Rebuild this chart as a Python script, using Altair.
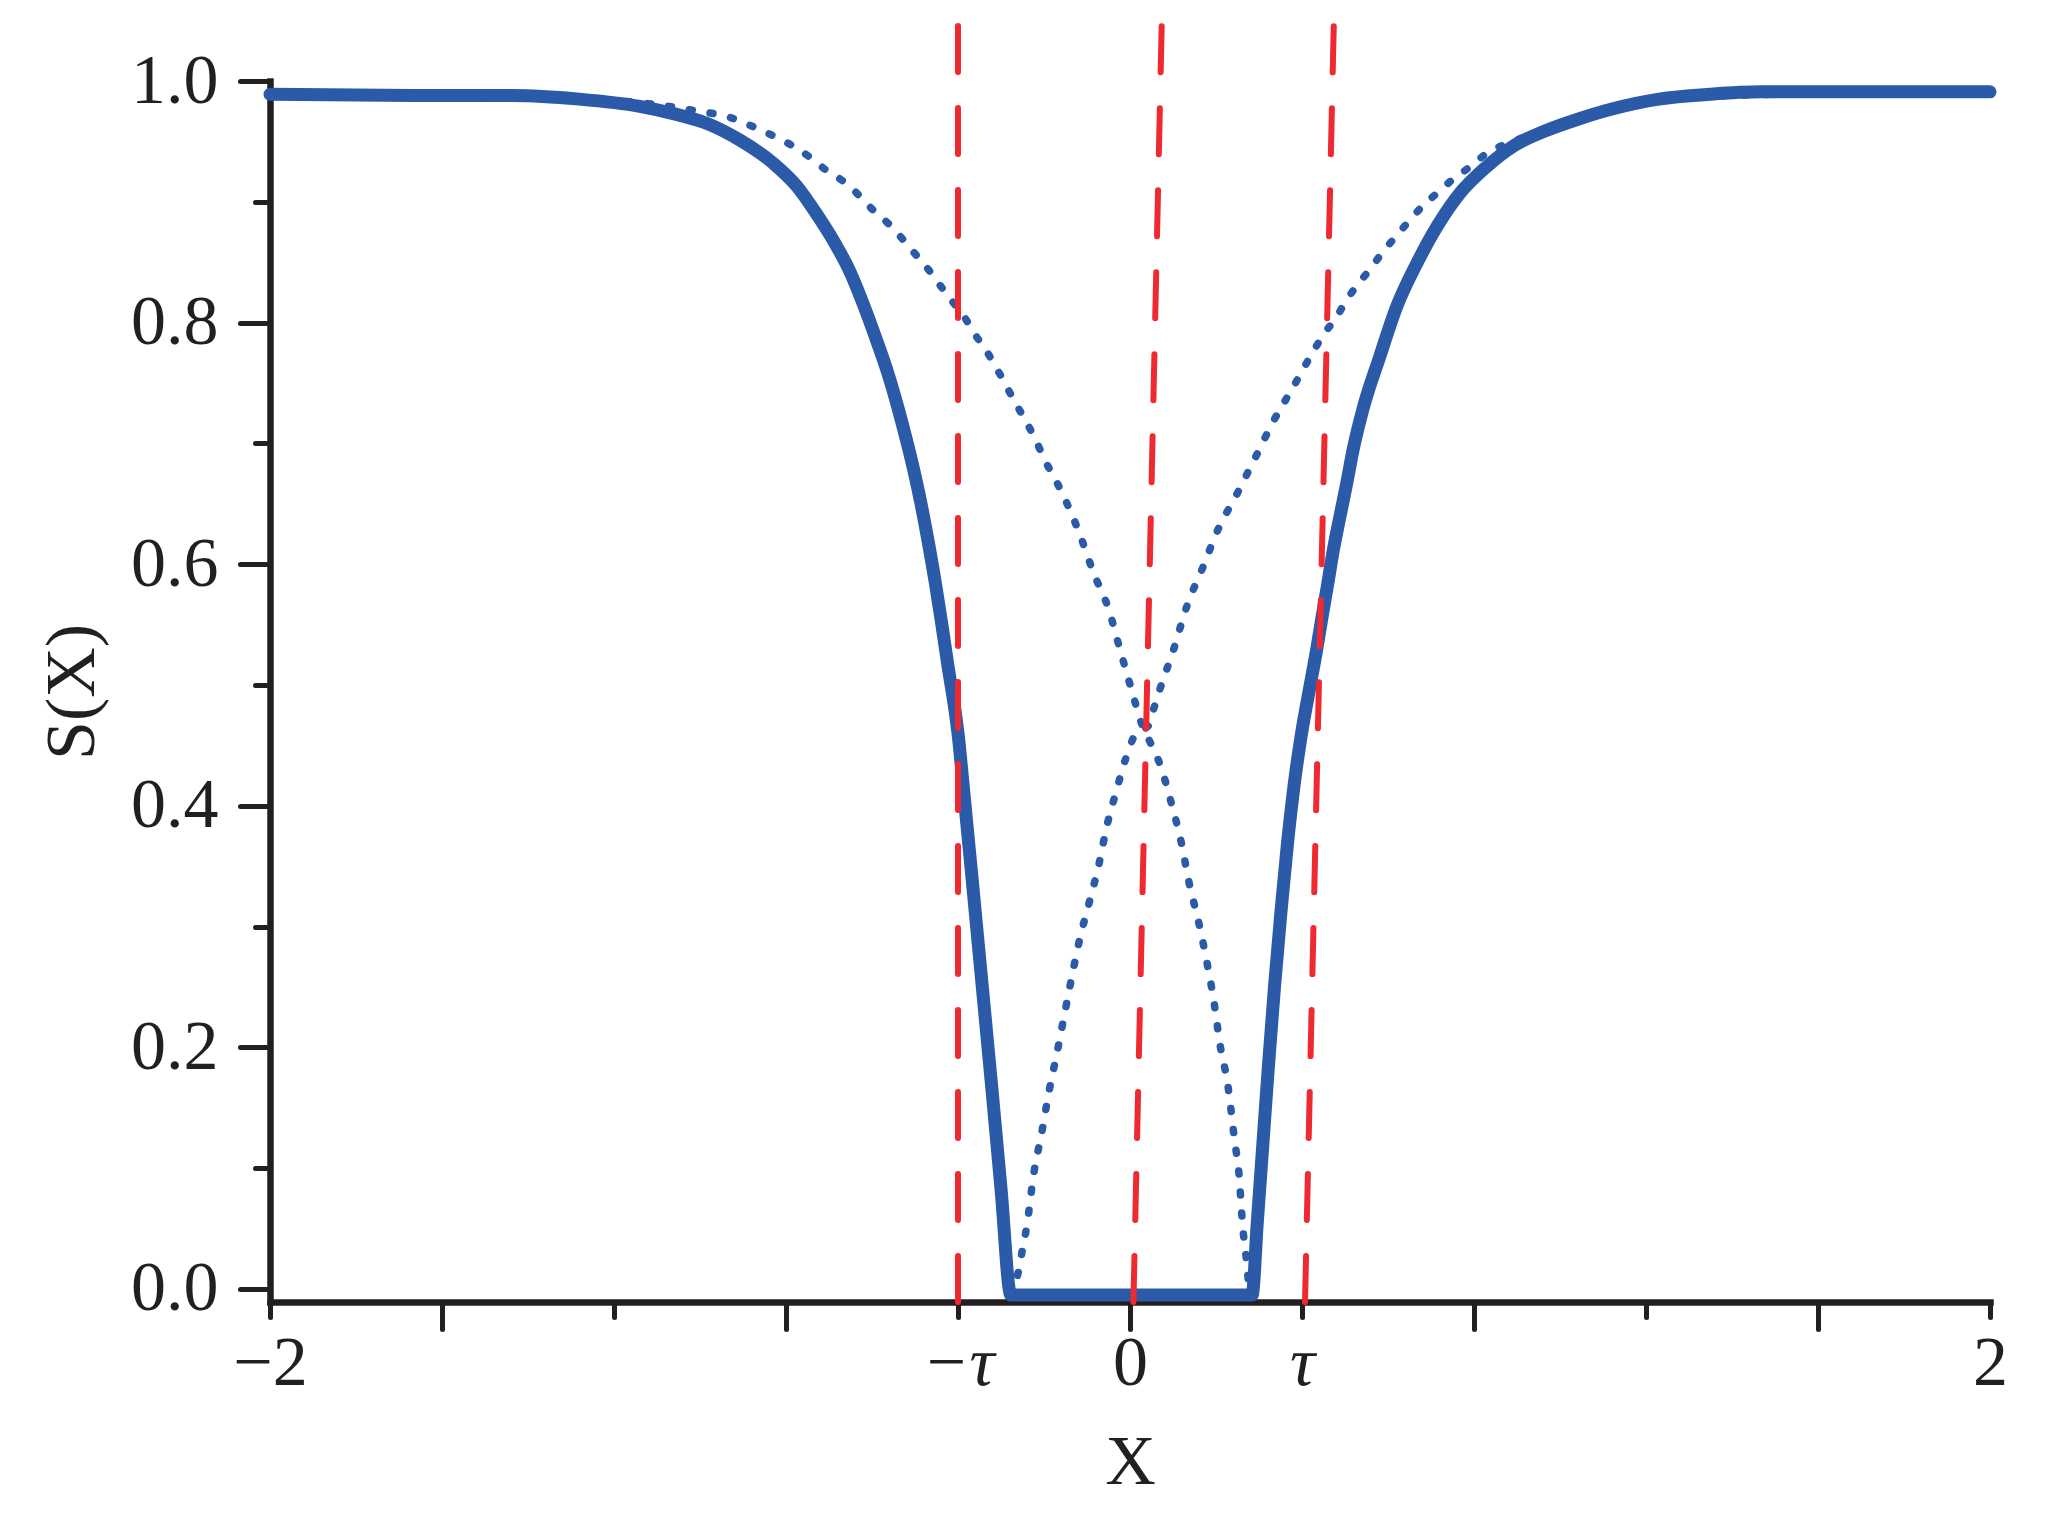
import altair as alt
import pandas as pd

# ---------------- data ----------------
solid_x = [-2.0, -1.644, -1.436, -1.281, -1.140, -1.062, -0.985, -0.907, -0.830, -0.775,
           -0.729, -0.690, -0.651, -0.620, -0.589, -0.563, -0.540, -0.520, -0.501, -0.486,
           -0.470, -0.452, -0.438, -0.423, -0.407, -0.400, -0.387, -0.366, -0.344, -0.321,
           -0.300, -0.277, 0.284, 0.296, 0.309, 0.322, 0.336, 0.351, 0.366, 0.382,
           0.399, 0.416, 0.434, 0.446, 0.460, 0.473, 0.488, 0.504, 0.519, 0.543,
           0.581, 0.620, 0.667, 0.713, 0.767, 0.829, 0.891, 0.968, 1.047, 1.123,
           1.230, 1.349, 1.467, 1.704, 2.0]
solid_y = [0.989, 0.988, 0.988, 0.985, 0.979, 0.973, 0.965, 0.951, 0.932, 0.913,
           0.890, 0.868, 0.842, 0.815, 0.785, 0.758, 0.730, 0.703, 0.675, 0.650,
           0.620, 0.583, 0.551, 0.515, 0.479, 0.460, 0.413, 0.335, 0.252, 0.165,
           0.083, -0.005, -0.005, 0.055, 0.120, 0.185, 0.250, 0.312, 0.368, 0.418,
           0.460, 0.494, 0.529, 0.555, 0.584, 0.612, 0.639, 0.667, 0.695, 0.730,
           0.772, 0.813, 0.849, 0.879, 0.907, 0.929, 0.946, 0.959, 0.969, 0.977,
           0.985, 0.989, 0.991, 0.991, 0.991]

dec_x = [-2.0, -1.5, -1.2, -1.021, -0.923, -0.869, -0.826, -0.783, -0.741, -0.706,
         -0.667, -0.632, -0.597, -0.562, -0.531, -0.500, -0.469, -0.442, -0.412, -0.384,
         -0.360, -0.333, -0.310, -0.287, -0.264, -0.240, -0.217, -0.198, -0.175, -0.154,
         -0.116, -0.086, -0.049, -0.023, 0.002, 0.028, 0.049, 0.070, 0.097, 0.119,
         0.137, 0.160, 0.178, 0.196, 0.209, 0.227, 0.244, 0.253, 0.262, 0.271, 0.278]
dec_y = [0.989, 0.988, 0.984, 0.976, 0.969, 0.961, 0.954, 0.946, 0.936, 0.926,
         0.917, 0.906, 0.893, 0.882, 0.870, 0.857, 0.844, 0.831, 0.817, 0.804,
         0.790, 0.776, 0.762, 0.747, 0.732, 0.717, 0.701, 0.686, 0.671, 0.656,
         0.624, 0.594, 0.562, 0.529, 0.498, 0.467, 0.451, 0.434, 0.401, 0.370,
         0.337, 0.303, 0.272, 0.236, 0.203, 0.170, 0.121, 0.097, 0.052, 0.023, -0.005]

inc_x = [-0.277, -0.258, -0.250, -0.240, -0.224, -0.206, -0.188, -0.170, -0.152, -0.135,
         -0.116, -0.094, -0.072, -0.054, -0.032, -0.010, 0.016, 0.042, 0.054, 0.070,
         0.102, 0.132, 0.169, 0.205, 0.247, 0.291, 0.333, 0.380, 0.426, 0.450,
         0.481, 0.504, 0.531, 0.562, 0.589, 0.620, 0.651, 0.682, 0.717, 0.752,
         0.791, 0.829, 0.891, 0.968, 1.047, 1.2, 1.5, 2.0]
inc_y = [-0.005, 0.017, 0.033, 0.052, 0.095, 0.128, 0.164, 0.195, 0.228, 0.259,
         0.291, 0.321, 0.352, 0.383, 0.412, 0.439, 0.461, 0.466, 0.479, 0.497,
         0.530, 0.565, 0.597, 0.629, 0.657, 0.688, 0.718, 0.747, 0.776, 0.790,
         0.805, 0.819, 0.832, 0.846, 0.859, 0.872, 0.885, 0.897, 0.908, 0.919,
         0.929, 0.940, 0.950, 0.960, 0.969, 0.983, 0.989, 0.991]

# red dashed guide lines (slightly slanted in the reference)
red_x_bottom = [-0.4, 0.008, 0.407]
red_x_top = [-0.4, 0.074, 0.474]
red_y_bottom = [-0.0108, -0.0108, -0.0108]
red_y_top = [1.048, 1.051, 1.048]

# axis ticks / labels
x_label_values = [-2, -1.2, -0.4, 0, 0.4, 1.2, 2]
x_label_texts = ["−2", "", "−τ", "0", "τ", "", "2"]
x_long_ticks = [-1.6, -0.8, 0, 0.8, 1.6]
y_major = [0, 0.2, 0.4, 0.6, 0.8, 1.0]
y_minor = [0.1, 0.3, 0.5, 0.7, 0.9]

x_domain = [-2, 2]
y_domain = [-0.0108, 1.0]

BLUE = "#2A5AA8"
RED = "#EE2A30"
INK = "#231F20"
FONT = "Liberation Serif"

# ---------------- build ----------------
solid_df = pd.DataFrame({"x": solid_x, "y": solid_y, "o": range(len(solid_x))})
dec_df = pd.DataFrame({"x": dec_x, "y": dec_y, "o": range(len(dec_x))})
inc_df = pd.DataFrame({"x": inc_x, "y": inc_y, "o": range(len(inc_x))})
red_df = pd.DataFrame({"x": red_x_bottom, "x2": red_x_top,
                       "y": red_y_bottom, "y2": red_y_top})

label_expr = " : ".join(
    f"datum.value == {v} ? '{t}'" for v, t in zip(x_label_values, x_label_texts)
) + " : ''"

xs = alt.Scale(domain=x_domain, nice=False, zero=False)
ys = alt.Scale(domain=y_domain, nice=False, zero=False)

common_axis = dict(domainColor=INK, domainWidth=6.5, tickColor=INK, tickWidth=5,
                   tickCap="round", grid=False, labelColor=INK, labelFont=FONT,
                   titleFont=FONT, titleColor=INK, titleFontWeight="normal",
                   domainCap="square")

x_axis_main = alt.Axis(orient="bottom", values=x_label_values, tickSize=15,
                       labelExpr=label_expr, labelFontSize=70, labelPadding=12,
                       labelFontStyle={"condition": {"test": "abs(datum.value) == 0.4",
                                                     "value": "italic"},
                                       "value": "normal"},
                       labelOverlap=False, labelFlush=False,
                       title="X", titleFontSize=70, titlePadding=30,
                       **common_axis)
y_axis_main = alt.Axis(orient="left", values=y_major, tickSize=30, format=".1f",
                       labelFontSize=70, labelPadding=22, labelOverlap=False,
                       labelFlush=False,
                       title="S(X)", titleFontSize=70, titlePadding=22,
                       **common_axis)
x_axis_minor = alt.Axis(orient="bottom", values=x_long_ticks, tickSize=27,
                        labels=False, domain=False, title="", **common_axis)
y_axis_minor = alt.Axis(orient="left", values=y_minor, tickSize=15,
                        labels=False, domain=False, title="", **common_axis)

solid = alt.Chart(solid_df).mark_line(
    color=BLUE, strokeWidth=13, strokeJoin="round", strokeCap="round",
    interpolate="monotone"
).encode(
    x=alt.X("x:Q", scale=xs, axis=x_axis_main),
    y=alt.Y("y:Q", scale=ys, axis=y_axis_main),
    order="o:Q",
)

dec = alt.Chart(dec_df).mark_line(
    color=BLUE, strokeWidth=7.5, strokeDash=[3, 18], strokeCap="round",
    interpolate="monotone"
).encode(
    x=alt.X("x:Q", scale=xs, axis=x_axis_minor),
    y=alt.Y("y:Q", scale=ys, axis=y_axis_minor),
    order="o:Q",
)

inc = alt.Chart(inc_df).mark_line(
    color=BLUE, strokeWidth=7.5, strokeDash=[3, 18], strokeCap="round",
    interpolate="monotone"
).encode(
    x=alt.X("x:Q", scale=xs, axis=None),
    y=alt.Y("y:Q", scale=ys, axis=None),
    order="o:Q",
)

red = alt.Chart(red_df).mark_rule(
    color=RED, strokeWidth=6, strokeDash=[46, 36], strokeCap="round"
).encode(
    x=alt.X("x:Q", scale=xs, axis=None),
    x2="x2:Q",
    y=alt.Y("y:Q", scale=ys, axis=None),
    y2="y2:Q",
)

chart = alt.layer(solid, dec, inc, red).resolve_axis(
    x="independent", y="independent"
).properties(
    width=1720, height=1221,
    autosize=alt.AutoSizeParams(type="none"),
    padding={"left": 262, "top": 73, "right": 50, "bottom": 200},
    background="white",
).configure_view(stroke=None)

chart.save("out.html", embed_options={"renderer": "svg", "actions": False})
